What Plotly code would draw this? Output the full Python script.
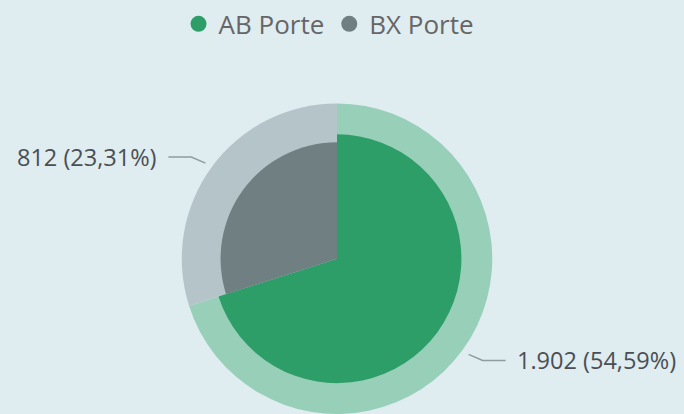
import math
import plotly.graph_objects as go

# ---- data ----
categories = ["AB Porte", "BX Porte"]
values = [1902, 812]
value_labels = ["1.902", "812"]
percent_labels = ["54,59%", "23,31%"]

# ---- style ----
dark_colors = ["#2E9E68", "#6F7F82"]
light_colors = ["#98CFB8", "#B5C4C9"]
transparent = "rgba(0,0,0,0)"
bg = "#DFECF0"
W, H = 684, 414
CX, CY = 337, 258          # pie centre in pixels (from top-left)
R_OUT = 156
R_IN = [125, 117]


def dom(r):
    return dict(x=[(CX - r) / W, (CX + r) / W],
                y=[(H - CY - r) / H, (H - CY + r) / H])


common = dict(sort=False, direction="clockwise", rotation=0, textinfo="none",
              hoverinfo="skip", showlegend=False, marker_line_width=0)

fig = go.Figure()
fig.add_trace(go.Pie(labels=categories, values=values, domain=dom(R_OUT),
                     marker=dict(colors=light_colors), **common))
fig.add_trace(go.Pie(labels=categories, values=values, domain=dom(R_IN[0]),
                     marker=dict(colors=[dark_colors[0], transparent]), **common))
fig.add_trace(go.Pie(labels=categories, values=values, domain=dom(R_IN[1]),
                     marker=dict(colors=[transparent, dark_colors[1]]), **common))

# legend entries (circles)
for name, col in zip(categories, dark_colors):
    fig.add_trace(go.Scatter(x=[None], y=[None], mode="markers", name=name,
                             marker=dict(color=col, size=16, symbol="circle"),
                             hoverinfo="skip"))

# leader lines + labels computed from slice angles
total = sum(values)
cum = 0
shapes, annotations = [], []
for i, v in enumerate(values):
    mid = (cum + v / 2) / total
    cum += v
    th = 2 * math.pi * mid
    dx, dy = math.sin(th), -math.cos(th)
    ex, ey = CX + (R_OUT + 7) * dx, CY + (R_OUT + 7) * dy
    sx = 1 if dx >= 0 else -1
    sy = 1 if dy >= 0 else -1
    bx, by = ex + sx * 14, ey + sy * 6
    hx, hy = bx + sx * 23, by
    P = lambda px, py: f"{px / W:.5f},{1 - py / H:.5f}"
    shapes.append(dict(type="path", xref="paper", yref="paper",
                       path=f"M {P(ex, ey)} L {P(bx, by)} L {P(hx, hy)}",
                       line=dict(color="#8E9CA1", width=1.5)))
    annotations.append(dict(xref="paper", yref="paper",
                            x=(hx + sx * 9) / W, y=1 - hy / H,
                            xanchor="left" if sx > 0 else "right", yanchor="middle",
                            text=f"{value_labels[i]} ({percent_labels[i]})",
                            showarrow=False,
                            font=dict(family="Open Sans", size=23.5, color="#4A4F54")))

fig.update_layout(
    width=W, height=H,
    margin=dict(l=0, r=0, t=0, b=0),
    paper_bgcolor=bg, plot_bgcolor=bg,
    xaxis=dict(visible=False), yaxis=dict(visible=False),
    showlegend=True,
    legend=dict(orientation="h", x=0.481, xanchor="center", y=1 - 22 / H, yanchor="middle",
                font=dict(family="Open Sans", size=26, color="#666666"),
                bgcolor="rgba(0,0,0,0)", itemclick=False, itemdoubleclick=False),
    shapes=shapes, annotations=annotations,
)

fig.write_html("out.html", config={"displayModeBar": False},
               post_script="document.body.style.margin='0';document.body.style.background='" + bg + "';")
